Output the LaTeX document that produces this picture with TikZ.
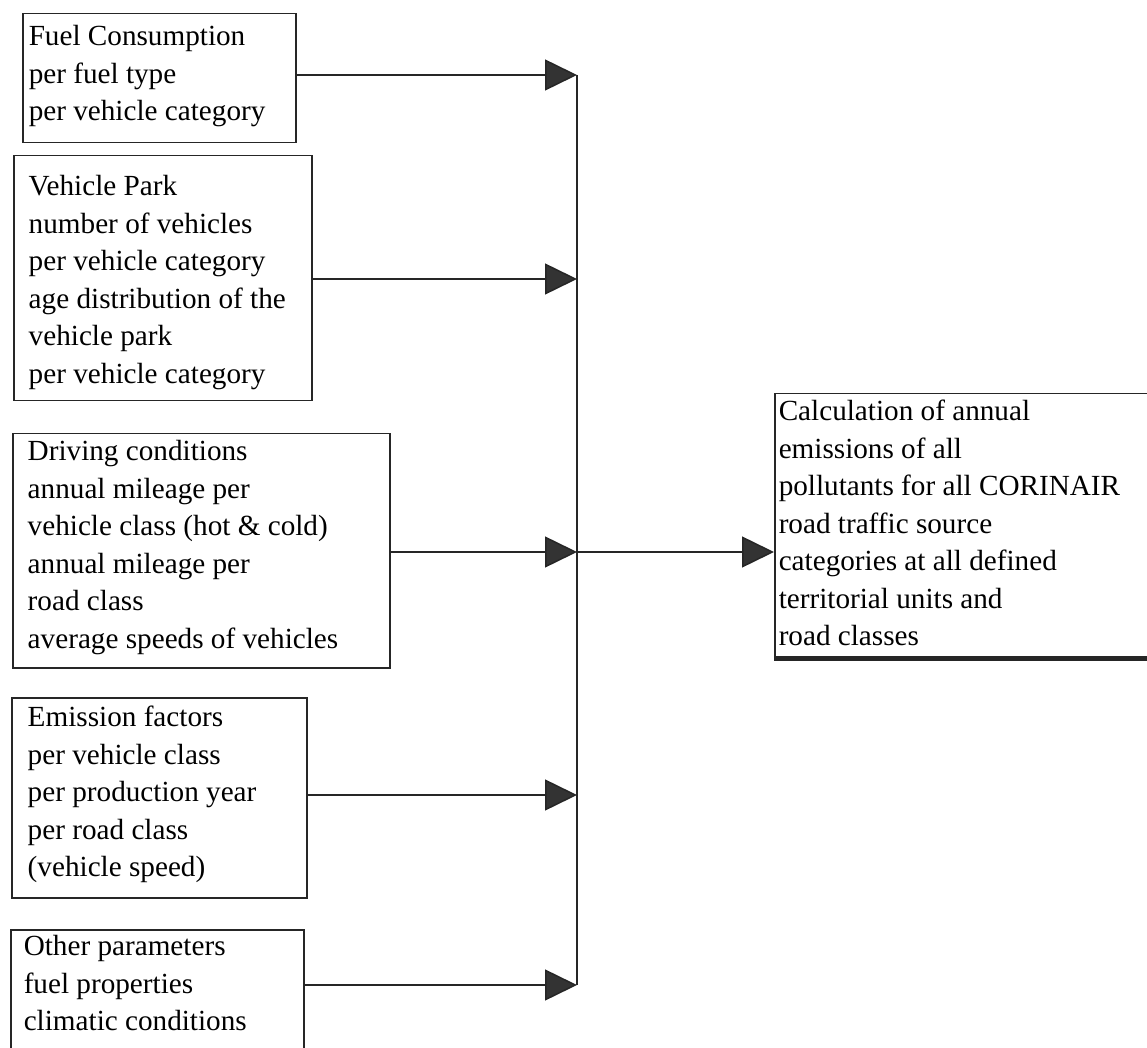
\documentclass[tikz,border=0pt]{standalone}
\usepackage{fontspec}
\setmainfont{Liberation Serif}
\usetikzlibrary{arrows.meta}
% #1 width, #2 height, #3 left padding, #4 first baseline depth, #5 lines
\newcommand\boxtext[5]{\parbox[c][#2][t]{#1}{\fontsize{14.6pt}{18.75pt}\selectfont\raggedright\leftskip=#3\relax\rule{0pt}{#4}#5}}
\begin{document}
\begin{tikzpicture}[x=0.5pt,y=-0.5pt,
  box/.style={draw=black!85, line width=0.75pt, inner sep=0pt, anchor=north west},
  arr/.style={draw=black!85, line width=0.75pt, -{Triangle[length=16pt,width=15.5pt,fill=black!80]}},
  bus/.style={draw=black!85, line width=0.75pt}]
\useasboundingbox (0,0) rectangle (1147,1048);
\clip (0,0) rectangle (1147,1048);

\node[box] (b1) at (22,13) {\boxtext{136.5pt}{64.5pt}{3pt}{16pt}{Fuel Consumption\\per fuel type\\per vehicle category}};
\node[box] (b2) at (13,155) {\boxtext{149pt}{122.5pt}{7.5pt}{20pt}{Vehicle Park\\number of vehicles\\per vehicle category\\age distribution of the\\vehicle park\\per vehicle category}};
\node[box] (b3) at (12,433) {\boxtext{188.5pt}{117pt}{7.5pt}{13.5pt}{Driving conditions\\annual mileage per\\vehicle class (hot \& cold)\\annual mileage per\\road class\\average speeds of vehicles}};
\node[box] (b4) at (11,697) {\boxtext{147.5pt}{100pt}{8pt}{14.5pt}{Emission factors\\per vehicle class\\per production year\\per road class\\(vehicle speed)}};
\node[box] (b5) at (10,929) {\boxtext{146.5pt}{66pt}{6.5pt}{13pt}{Other parameters\\fuel properties\\climatic conditions}};
\node[box] (r) at (774,393) {\boxtext{193pt}{131.5pt}{2pt}{13.5pt}{Calculation of annual\\emissions of all\\pollutants for all CORINAIR\\road traffic source\\categories at all defined\\territorial units and\\road classes}};
\draw[black!85, line width=2pt] ([yshift=-0.6pt]r.south west) -- ([yshift=-0.6pt]r.south east);

\coordinate (t1) at (577,75);
\coordinate (t2) at (577,279);
\coordinate (t3) at (577,552);
\coordinate (t4) at (577,795);
\coordinate (t5) at (577,985);

\draw[bus] (t1) -- (t5);
\draw[arr] (b1.east |- t1) -- (t1);
\draw[arr] (b2.east |- t2) -- (t2);
\draw[arr] (b3.east |- t3) -- (t3);
\draw[arr] (b4.east |- t4) -- (t4);
\draw[arr] (b5.east |- t5) -- (t5);
\draw[arr] (t3) -- (r.west |- t3);
\end{tikzpicture}
\end{document}
